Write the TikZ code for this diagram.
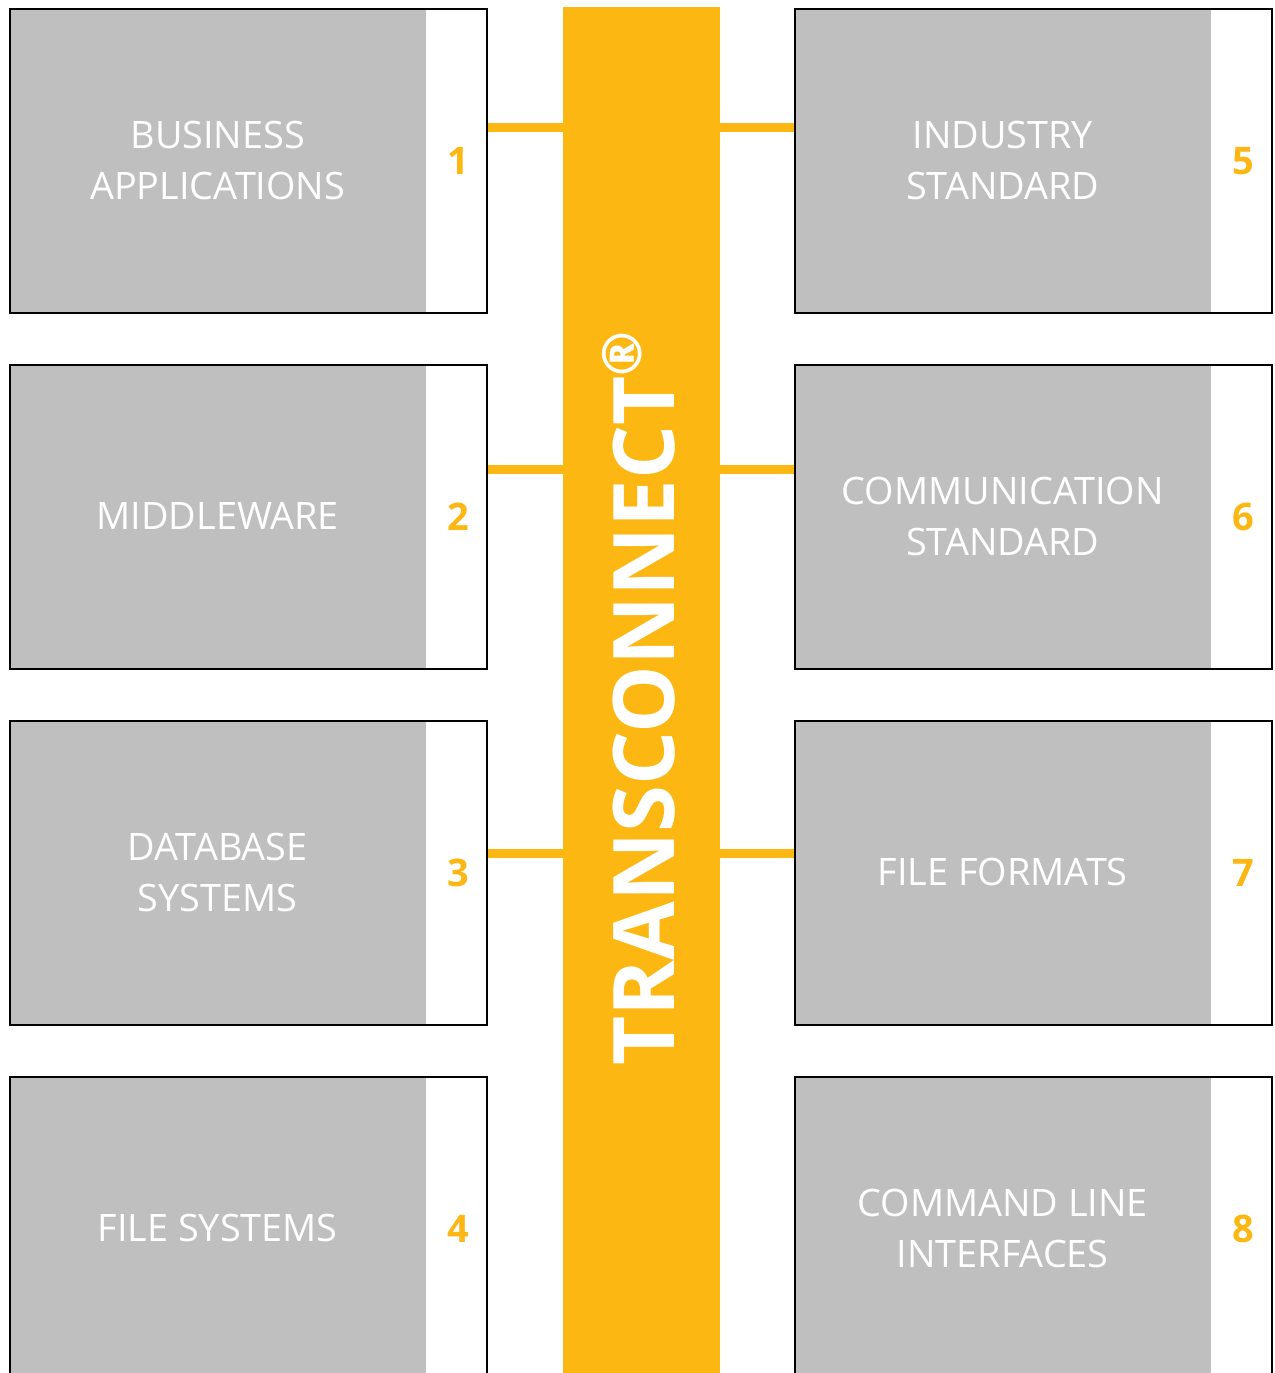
\documentclass[tikz,border=0pt]{standalone}
\usepackage{fontspec}
\setmainfont{Open Sans}
\definecolor{tcorange}{RGB}{253,183,19}
\definecolor{tcgray}{RGB}{191,191,191}
\tikzset{
  frame/.style={draw=black, line width=2pt, minimum width=477pt, minimum height=304pt, inner sep=0pt, anchor=north west},
  graypart/.style={fill=tcgray, minimum width=417pt, minimum height=304pt, inner sep=0pt, anchor=north west, text=white, font=\fontsize{37.8}{51}\selectfont, align=center},
  num/.style={text=tcorange, font=\bfseries\fontsize{38}{38}\selectfont, inner sep=0pt},
  link/.style={draw=tcorange, line width=9pt},
  barbox/.style={fill=tcorange, minimum width=157pt, minimum height=1420pt, inner sep=0pt, anchor=north west}
}
\begin{document}
\begin{tikzpicture}[x=1pt,y=-1pt]
\useasboundingbox (0,0) rectangle (1274,1373);
\clip (0,0) rectangle (1274,1373);
\fill[white] (0,0) rectangle (1274,1373);
% central bar
\node[barbox] (bar) at (563,7) {};
\node[rotate=90, anchor=base west, text=white, inner sep=0pt, font=\bfseries\fontsize{85}{85}\selectfont] (title) at (674,1066) {TRANSCONNECT\raisebox{33pt}{\fontsize{54}{54}\selectfont ®}};
% left boxes
\node[graypart] (g1) at (9,8) {BUSINESS\\APPLICATIONS};
\node[frame] (b1) at (9,8) {};
\node[num] (n1) at ([xshift=-30pt]b1.east) {1};
\node[graypart] (g2) at (9,364) {MIDDLEWARE};
\node[frame] (b2) at (9,364) {};
\node[num] (n2) at ([xshift=-30pt]b2.east) {2};
\node[graypart] (g3) at (9,720) {DATABASE\\SYSTEMS};
\node[frame] (b3) at (9,720) {};
\node[num] (n3) at ([xshift=-30pt]b3.east) {3};
\node[graypart] (g4) at (9,1076) {FILE SYSTEMS};
\node[frame] (b4) at (9,1076) {};
\node[num] (n4) at ([xshift=-30pt]b4.east) {4};
% right boxes
\node[graypart] (g5) at (794,8) {INDUSTRY\\STANDARD};
\node[frame] (b5) at (794,8) {};
\node[num] (n5) at ([xshift=-30pt]b5.east) {5};
\node[graypart] (g6) at (794,364) {COMMUNICATION\\STANDARD};
\node[frame] (b6) at (794,364) {};
\node[num] (n6) at ([xshift=-30pt]b6.east) {6};
\node[graypart] (g7) at (794,720) {FILE FORMATS};
\node[frame] (b7) at (794,720) {};
\node[num] (n7) at ([xshift=-30pt]b7.east) {7};
\node[graypart] (g8) at (794,1076) {COMMAND LINE\\INTERFACES};
\node[frame] (b8) at (794,1076) {};
\node[num] (n8) at ([xshift=-30pt]b8.east) {8};
% connectors
\coordinate (c1) at ([yshift=-119pt]b1.north east);
\coordinate (c2) at ([yshift=-105pt]b2.north east);
\coordinate (c3) at ([yshift=-133pt]b3.north east);
\coordinate (c5) at ([yshift=-119pt]b5.north west);
\coordinate (c6) at ([yshift=-105pt]b6.north west);
\coordinate (c7) at ([yshift=-133pt]b7.north west);
\draw[link] (c1) -- (c1 -| bar.west);
\draw[link] (c2) -- (c2 -| bar.west);
\draw[link] (c3) -- (c3 -| bar.west);
\draw[link] (c5) -- (c5 -| bar.east);
\draw[link] (c6) -- (c6 -| bar.east);
\draw[link] (c7) -- (c7 -| bar.east);
\end{tikzpicture}
\end{document}
